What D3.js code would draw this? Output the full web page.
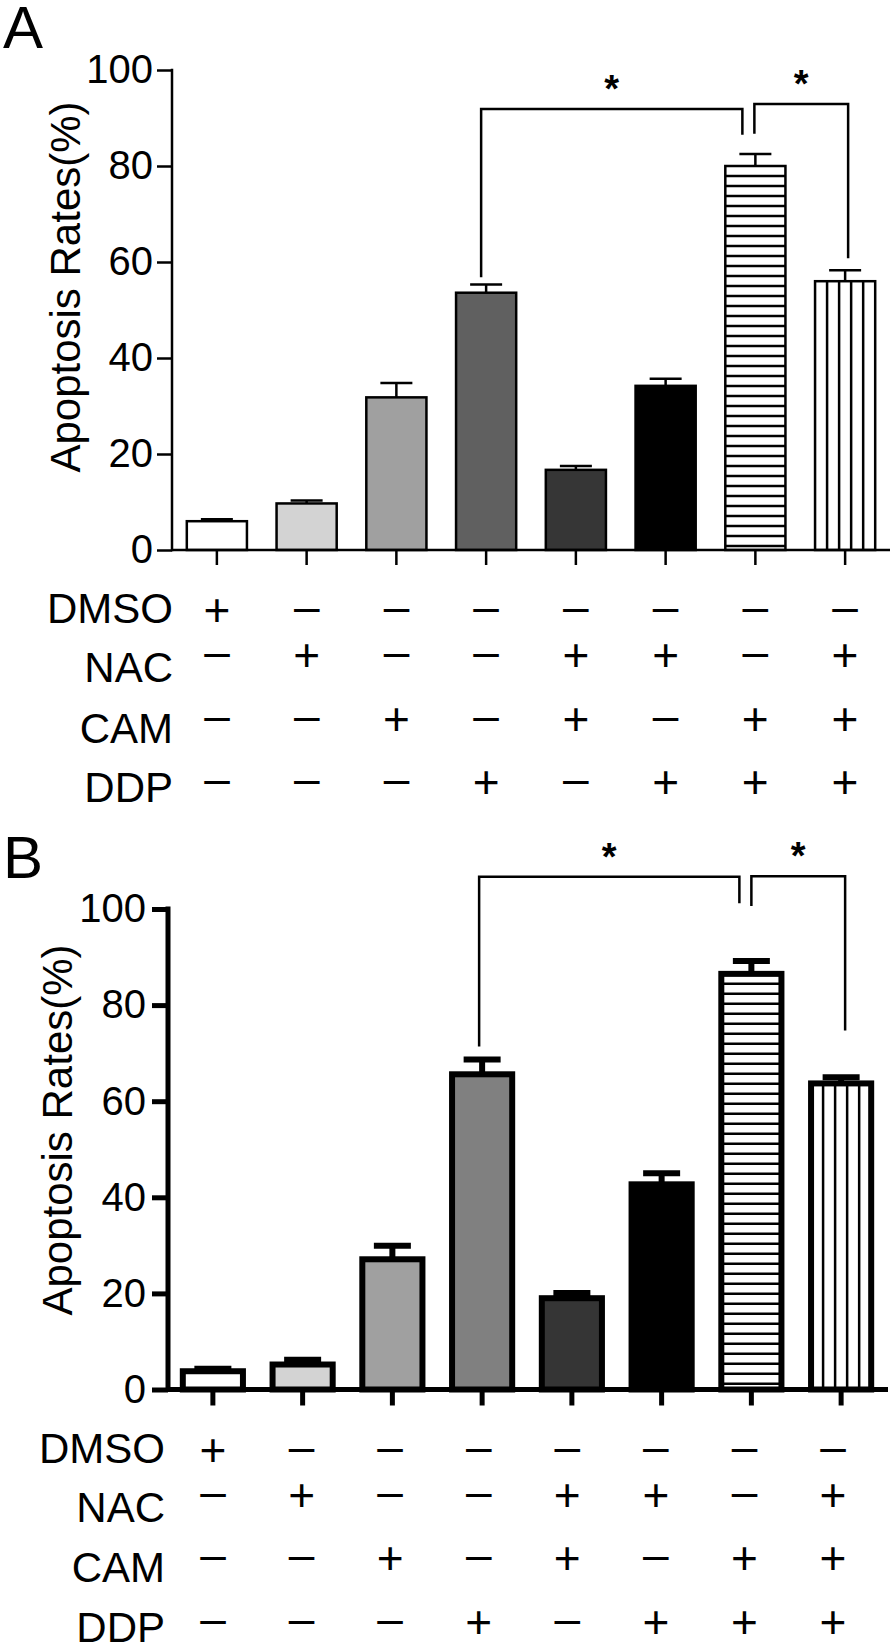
<!DOCTYPE html>
<html><head><meta charset="utf-8">
<script src="https://cdn.jsdelivr.net/npm/d3@7"></script>
<style>
body{margin:0;background:#fff;}
svg{display:block;}
text{font-family:"Liberation Sans",Arial,sans-serif;fill:#000;}
</style>
</head><body>
<svg id="chart" width="894" height="1645"></svg>
<script>
// ---------- data ----------
const groups = ["G1","G2","G3","G4","G5","G6","G7","G8"];
const treatments = ["DMSO","NAC","CAM","DDP"];
const dmsoRow = [1,0,0,0,0,0,0,0];
const nacRow  = [0,1,0,0,1,1,0,1];
const camRow  = [0,0,1,0,1,0,1,1];
const ddpRow  = [0,0,0,1,0,1,1,1];
const yTicks = [0,20,40,60,80,100];
const yTitle = "Apoptosis Rates(%)";

const meanA = [6.0, 9.7, 31.8, 53.6, 16.7, 34.2, 80.0, 56.0];
const errA  = [0.4, 0.6, 3.0, 1.7, 0.8, 1.5, 2.5, 2.3];
const meanB = [3.8, 5.2, 27.1, 65.6, 19.0, 42.7, 86.5, 63.7];
const errB  = [0.5, 1.0, 2.8, 3.1, 1.1, 2.3, 2.7, 1.3];

const fillA = ["#ffffff","#d3d3d3","#a0a0a0","#606060","#363636","#000000","hstripe","vstripe"];
const fillB = ["#ffffff","#d3d3d3","#a0a0a0","#808080","#353535","#000000","hstripe","vstripe"];

// significance brackets: from/to group index, bracket top value, left & right leg bottoms (data units)
const sigA = [
  {from:3, to:6, top:91.9, leftEnd:56.8, rightEnd:86.5, dxL:-5, dxR:-13, label:"*"},
  {from:6, to:7, top:92.9, leftEnd:86.7, rightEnd:60.8, dxL:-1, dxR:3, label:"*"}
];
const sigB = [
  {from:3, to:6, top:106.7, leftEnd:71.4, rightEnd:101.2, dxL:-3, dxR:-12, label:"*"},
  {from:6, to:7, top:106.8, leftEnd:100.6, rightEnd:74.7, dxL:0, dxR:4, label:"*"}
];

// ---------- layout ----------
const panels = [
  {name:"A", labelBase:48, axisX:172, right:890, yTop:70, yBot:550, axisW:2.5, barW:2.5, errW:2.5, capW:32,
   tickLen:15, tickPad:4, titleX:80, titleY:287, rowRight:173, rowBase:[623,682,743,802],
   tableRange:[217,845], means:meanA, errs:errA, fills:fillA, sig:sigA},
  {name:"B", labelBase:878, axisX:168, right:888, yTop:909, yBot:1389.5, axisW:5, barW:6, errW:6, capW:37,
   tickLen:16, tickPad:6, titleX:72, titleY:1130, rowRight:165, rowBase:[1463,1522,1582,1642],
   tableRange:[213,833], means:meanB, errs:errB, fills:fillB, sig:sigB}
];
const symShift = [-14,-28,-25,-21];
const rows = [dmsoRow, nacRow, camRow, ddpRow];

const svg = d3.select("#chart");

panels.forEach(p => {
  const g = svg.append("g");
  const y = d3.scaleLinear().domain([0,100]).range([p.yBot, p.yTop]);
  const x = d3.scaleBand().domain(groups).range([p.axisX, p.axisX+718])
              .paddingInner(0.33).paddingOuter(0.165);
  const bw = x.bandwidth();
  const cx = d => x(d) + bw/2;

  // panel letter
  g.append("text").attr("x",3).attr("y",p.labelBase).attr("font-size",60).text(p.name);

  // y title
  g.append("text").attr("transform",`translate(${p.titleX},${p.titleY}) rotate(-90)`)
   .attr("text-anchor","middle").attr("font-size",42).text(yTitle);

  // bars
  const bars = g.append("g");
  groups.forEach((grp,i) => {
    const v = p.means[i], f = p.fills[i];
    const x0 = x(grp), y0 = y(v), h = y(0) - y(v);
    bars.append("rect").attr("x",x0).attr("y",y0).attr("width",bw).attr("height",h)
      .attr("fill", (f==="hstripe"||f==="vstripe") ? "#fff" : f).attr("stroke","none");
    if (f === "hstripe") {
      d3.range(y0+10, y(0)-2, 10).forEach(yy => {
        bars.append("line").attr("x1",x0).attr("x2",x0+bw).attr("y1",yy).attr("y2",yy)
          .attr("stroke","#000").attr("stroke-width",2.5);
      });
    } else if (f === "vstripe") {
      d3.range(1,5).forEach(k => {
        const xx = x0 + bw*k/5;
        bars.append("line").attr("x1",xx).attr("x2",xx).attr("y1",y0).attr("y2",y(0))
          .attr("stroke","#000").attr("stroke-width",2.5);
      });
    }
    bars.append("rect").attr("x",x0).attr("y",y0).attr("width",bw).attr("height",h)
      .attr("fill","none").attr("stroke","#000").attr("stroke-width",p.barW);
  });

  // error bars
  groups.forEach((grp,i) => {
    const c = cx(grp), v = p.means[i], e = p.errs[i];
    g.append("line").attr("x1",c).attr("x2",c).attr("y1",y(v)).attr("y2",y(v+e))
      .attr("stroke","#000").attr("stroke-width",p.errW);
    g.append("line").attr("x1",c-p.capW/2).attr("x2",c+p.capW/2).attr("y1",y(v+e)).attr("y2",y(v+e))
      .attr("stroke","#000").attr("stroke-width",p.errW);
  });

  // y axis
  const ya = g.append("g").attr("transform",`translate(${p.axisX},0)`)
    .call(d3.axisLeft(y).tickValues(yTicks).tickSize(p.tickLen).tickPadding(p.tickPad).tickSizeOuter(0));
  ya.select(".domain").remove();
  ya.selectAll(".tick line").attr("stroke","#000").attr("stroke-width",p.axisW);
  ya.selectAll(".tick text").attr("font-size",40).attr("font-family","Liberation Sans, Arial, sans-serif").attr("fill","#000");
  g.append("line").attr("x1",p.axisX).attr("x2",p.axisX).attr("y1",p.yTop-p.axisW/2).attr("y2",p.yBot+p.axisW/2)
    .attr("stroke","#000").attr("stroke-width",p.axisW);

  // x axis
  g.append("line").attr("x1",p.axisX).attr("x2",p.right).attr("y1",p.yBot).attr("y2",p.yBot)
    .attr("stroke","#000").attr("stroke-width",p.axisW);
  groups.forEach(grp => {
    g.append("line").attr("x1",cx(grp)).attr("x2",cx(grp)).attr("y1",p.yBot).attr("y2",p.yBot+p.tickLen)
      .attr("stroke","#000").attr("stroke-width",p.axisW);
  });

  // significance brackets
  p.sig.forEach(s => {
    const xl = cx(groups[s.from]) + s.dxL, xr = cx(groups[s.to]) + s.dxR, yt = y(s.top);
    g.append("path")
      .attr("d", `M${xl},${y(s.leftEnd)}V${yt}H${xr}V${y(s.rightEnd)}`)
      .attr("fill","none").attr("stroke","#000").attr("stroke-width",2.5);
    g.append("text").attr("x",(xl+xr)/2).attr("y",yt-29+22).attr("text-anchor","middle")
      .attr("font-size",38).attr("font-weight","bold").text(s.label);
  });

  // treatment table
  const tx = d3.scalePoint().domain(groups).range(p.tableRange);
  treatments.forEach((t,r) => {
    g.append("text").attr("x",p.rowRight).attr("y",p.rowBase[r]).attr("text-anchor","end")
      .attr("font-size",42).text(t);
    const cy = p.rowBase[r] + symShift[r];
    rows[r].forEach((on,i) => {
      g.append("text").attr("x",tx(groups[i])).attr("y", on ? cy+16.5 : cy+12.5)
        .attr("text-anchor","middle").attr("font-size",46).text(on ? "+" : "\u2013");
    });
  });
});
</script>
</body></html>
